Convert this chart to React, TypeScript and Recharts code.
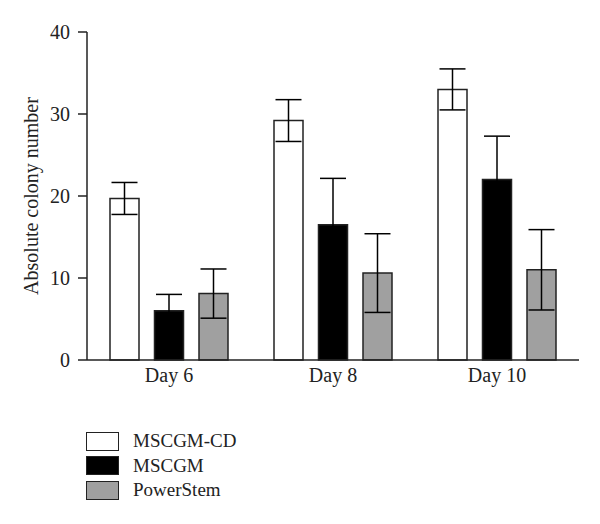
import { BarChart, Bar, XAxis, YAxis, ErrorBar, Legend } from 'recharts';

const days = ['Day 6', 'Day 8', 'Day 10'];
const cdMean = [19.7, 29.2, 33.0];
const cdErr = [1.95, 2.55, 2.5];
const mscgmMean = [6.0, 16.5, 22.0];
const mscgmErr = [2.0, 5.65, 5.3];
const powerMean = [8.1, 10.6, 11.0];
const powerErr = [3.0, 4.8, 4.9];
const yTicks = [0, 10, 20, 30, 40];

const series = [
  { key: 'cd', err: 'cdErr', name: 'MSCGM-CD', fill: '#ffffff' },
  { key: 'mscgm', err: 'mscgmErr', name: 'MSCGM', fill: '#000000' },
  { key: 'power', err: 'powerErr', name: 'PowerStem', fill: '#a0a0a0' },
];

const data = days.map((day, i) => ({
  day,
  cd: cdMean[i],
  cdErr: cdErr[i],
  mscgm: mscgmMean[i],
  mscgmErr: mscgmErr[i],
  power: powerMean[i],
  powerErr: powerErr[i],
}));

const font = '"Liberation Serif", "Times New Roman", serif';
const ink = '#222';

function LegendBox() {
  return (
    <div style={{ fontFamily: font, fontSize: 19, color: ink }}>
      {series.map((s) => (
        <div key={s.key} style={{ display: 'flex', alignItems: 'center', height: 24.5 }}>
          <div
            style={{
              width: 31,
              height: 17,
              background: s.fill,
              border: `1.5px solid ${ink}`,
              marginRight: 14,
            }}
          />
          <span style={{ lineHeight: '20px' }}>{s.name}</span>
        </div>
      ))}
    </div>
  );
}

export default function App() {
  return (
    <div style={{ position: 'absolute', left: 0, top: 0, width: 600, height: 524, background: '#fff' }}>
      <BarChart
        width={600}
        height={524}
        data={data}
        margin={{ top: 32, right: 21, left: 0, bottom: 134 }}
        barSize={29}
        barGap={15.5}
      >
        <XAxis
          dataKey="day"
          axisLine={{ stroke: ink, strokeWidth: 1.5 }}
          tickLine={false}
          tick={{ fill: ink, fontFamily: font, fontSize: 20 }}
          height={30}
        />
        <YAxis
          domain={[0, 40]}
          ticks={yTicks}
          width={87}
          axisLine={{ stroke: ink, strokeWidth: 1.5 }}
          tickLine={{ stroke: ink, strokeWidth: 1.5 }}
          tickSize={9}
          tickMargin={8}
          tick={{ fill: ink, fontFamily: font, fontSize: 20 }}
          label={{
            value: 'Absolute colony number',
            angle: -90,
            position: 'insideLeft',
            offset: 31,
            style: { textAnchor: 'middle', fill: ink, fontFamily: font, fontSize: 20 },
          }}
        />
        <Legend
          layout="vertical"
          align="center"
          verticalAlign="middle"
          content={() => <LegendBox />}
          wrapperStyle={{ left: 86, top: 429, width: 220 }}
        />
        {series.map((s) => (
          <Bar
            key={s.key}
            dataKey={s.key}
            name={s.name}
            fill={s.fill}
            stroke={ink}
            strokeWidth={1.5}
            isAnimationActive={false}
          >
            <ErrorBar dataKey={s.err} direction="y" width={13} stroke="#000" strokeWidth={1.5} />
          </Bar>
        ))}
      </BarChart>
    </div>
  );
}
